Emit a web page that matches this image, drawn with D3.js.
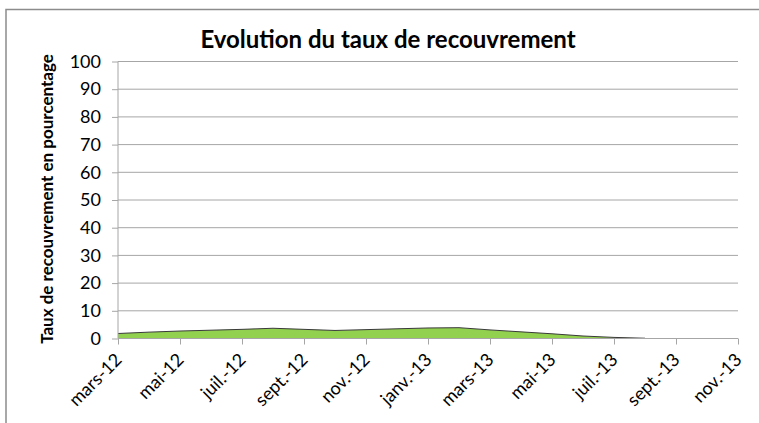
<!DOCTYPE html>
<html>
<head>
<meta charset="utf-8">
<script src="https://cdn.jsdelivr.net/npm/d3@7"></script>
<style>
  body { margin: 0; background: #fff; }
  text { font-family: Lato, "Open Sans", sans-serif; }
</style>
</head>
<body>
<div id="chart"></div>
<script>
// data
var months = ["mars-12","avr.-12","mai-12","juin-12","juil.-12","août-12","sept.-12","oct.-12","nov.-12","déc.-12",
              "janv.-13","févr.-13","mars-13","avr.-13","mai-13","juin-13","juil.-13","août-13","sept.-13","oct.-13","nov.-13"];
var taux = [1.8, 2.3, 2.7, 3.0, 3.3, 3.7, 3.3, 2.9, 3.2, 3.5, 3.8, 3.9, 3.1, 2.4, 1.7, 0.9, 0.4, 0.1];
var yTicks = [0, 10, 20, 30, 40, 50, 60, 70, 80, 90, 100];
var xTickLabels = ["mars-12","mai-12","juil.-12","sept.-12","nov.-12","janv.-13","mars-13","mai-13","juil.-13","sept.-13","nov.-13"];

var W = 759, H = 423;
var svg = d3.select('#chart').append('svg')
    .attr('width', W)
    .attr('height', H)

// chart frame (only top and left visible)
svg.append('path')
    .attr('d', 'M6,423V9.5H759')
    .attr('fill', 'none')
    .attr('stroke', '#8c8c8c')
    .attr('stroke-width', 1.5)

var x = d3.scalePoint().domain(months).range([118, 738])
var y = d3.scaleLinear().domain([0, 100]).range([338.5, 61.5])

// gridlines
svg.append('g')
    .selectAll('line')
    .data(yTicks.slice(1))
    .join('line')
    .attr('x1', 118).attr('x2', 738)
    .attr('y1', d => y(d)).attr('y2', d => y(d))
    .attr('stroke', '#a6a6a6')
    .attr('stroke-width', 1)

// area
var area = d3.area()
    .x((d, i) => x(months[i]))
    .y0(y(0))
    .y1(d => y(d))
var line = d3.line()
    .x((d, i) => x(months[i]))
    .y(d => y(d))

svg.append('path')
    .datum(taux)
    .attr('d', area)
    .attr('fill', '#92d050')

svg.append('path')
    .datum(taux)
    .attr('d', line)
    .attr('fill', 'none')
    .attr('stroke', '#3a3a3a')
    .attr('stroke-width', 1)

// y axis
var yAxis = d3.axisLeft(y).tickValues(yTicks).tickSize(6).tickPadding(11)
var gy = svg.append('g')
    .attr('transform', 'translate(118,0)')
    .call(yAxis)
gy.select('.domain').attr('stroke', '#a6a6a6').attr('d', 'M0,' + y(100) + 'V' + y(0))
gy.selectAll('.tick line').attr('stroke', '#a6a6a6')
gy.selectAll('.tick text')
    .attr('fill', '#000')
    .style('font-size', '18px')
    .style('font-family', 'Lato, "Open Sans", sans-serif')

// x axis
var xAxis = d3.axisBottom(x).tickValues(xTickLabels).tickSize(6).tickFormat(d => d)
var gx = svg.append('g')
    .attr('transform', 'translate(0,' + y(0) + ')')
    .call(xAxis)
gx.select('.domain').attr('stroke', '#a6a6a6').attr('d', 'M118,0H738')
gx.selectAll('.tick line').attr('stroke', '#a6a6a6')
gx.selectAll('.tick text')
    .attr('fill', '#000')
    .style('font-size', '18px')
    .style('font-family', 'Lato, "Open Sans", sans-serif')
    .attr('text-anchor', 'end')
    .attr('x', 0)
    .attr('y', 0)
    .attr('dy', '0.35em')
    .attr('transform', 'translate(0,18) rotate(-45)')

// title
svg.append('text')
    .attr('x', 388)
    .attr('y', 48)
    .attr('text-anchor', 'middle')
    .style('font-size', '24px')
    .style('font-weight', 'bold')
    .text('Evolution du taux de recouvrement')

// y axis title
svg.append('text')
    .attr('transform', 'translate(53,199) rotate(-90)')
    .attr('text-anchor', 'middle')
    .style('font-size', '17px')
    .style('font-weight', 'bold')
    .text('Taux de recouvrement en pourcentage')
</script>
</body>
</html>
